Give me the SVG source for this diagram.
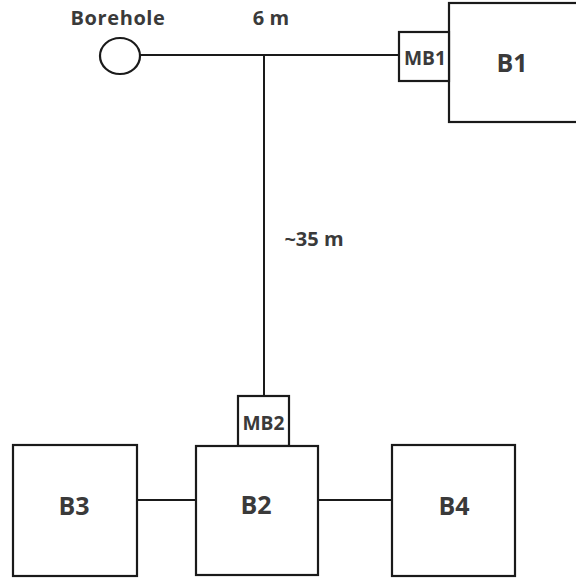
<svg xmlns="http://www.w3.org/2000/svg" width="576" height="578" viewBox="0 0 576 578">
<style>
.box{fill:#fff;stroke:#1a1a1a;stroke-width:2.2}
.ln{stroke:#1a1a1a;stroke-width:2;fill:none}
text{font-family:"Open Sans","Liberation Sans",sans-serif;font-weight:bold;fill:#3a3a3a;text-anchor:middle}
.big{font-size:25px}
.sm{font-size:20px}
</style>
<rect width="576" height="578" fill="#fff"/>
<g id="connectors">
<line class="ln" x1="140" y1="55" x2="399" y2="55"/>
<line class="ln" x1="264" y1="55" x2="264" y2="396"/>
<line class="ln" x1="137" y1="500" x2="196" y2="500"/>
<line class="ln" x1="318" y1="500" x2="392" y2="500"/>
</g>
<g id="borehole">
<ellipse class="box" cx="120" cy="56" rx="20" ry="18"/>
<text class="sm" x="118" y="25" style="letter-spacing:0.6px">Borehole</text>
</g>
<g id="label-6m"><text class="sm" x="271" y="25">6 m</text></g>
<g id="label-35m"><text class="sm" x="314" y="246">~35 m</text></g>
<g id="B1">
<rect class="box" x="449" y="3" width="130" height="119"/>
<text class="big" x="512" y="72">B1</text>
</g>
<g id="MB1">
<rect class="box" x="399" y="32" width="50" height="49"/>
<text class="sm" x="425" y="65" textLength="42" lengthAdjust="spacingAndGlyphs">MB1</text>
</g>
<g id="MB2">
<rect class="box" x="238" y="396" width="51" height="50"/>
<text class="sm" x="263.5" y="430" textLength="42" lengthAdjust="spacingAndGlyphs">MB2</text>
</g>
<g id="B2">
<rect class="box" x="196" y="446" width="122" height="129"/>
<text class="big" x="256" y="514">B2</text>
</g>
<g id="B3">
<rect class="box" x="13" y="445" width="124" height="131"/>
<text class="big" x="74" y="515">B3</text>
</g>
<g id="B4">
<rect class="box" x="392" y="445" width="123" height="131"/>
<text class="big" x="454" y="515">B4</text>
</g>
</svg>
